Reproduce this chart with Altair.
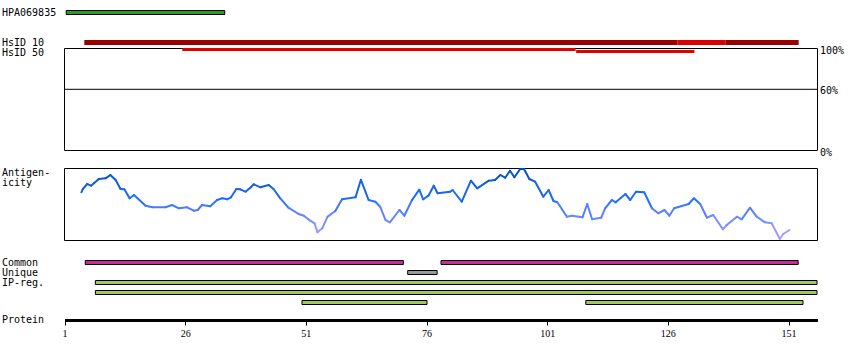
import altair as alt
import pandas as pd

# ---------------- data ----------------
protein_length = 157
tick_residues = [1, 26, 51, 76, 101, 126, 151]

# Antigenicity profile (residue, score)
ag_residue = [4.5, 4.8, 5.7, 6.5, 7.1, 8.1, 9.5, 10.5, 11.6, 12.6, 13.4, 14.5, 15.4, 17.8, 19.2,
              21.9, 23.3, 24.7, 26.4, 27.8, 28.6, 29.5, 31.2, 32.6, 33.7, 34.7, 35.5, 36.6, 37.4,
              38.5, 39.5, 40.2, 41.6, 43.3, 44.3, 45.7, 47.4, 49.5, 50.6, 51.9, 52.8, 53.4, 54.4,
              55.5, 57.1, 58.5, 61.3, 62.4, 64.0, 65.4, 66.4, 67.5, 68.4, 70.4, 71.4, 73.0, 74.5,
              75.3, 76.4, 77.5, 78.3, 80.9, 81.4, 83.3, 85.2, 86.5, 88.9, 90.2, 91.3, 92.3, 93.3,
              94.2, 95.4, 96.2, 97.3, 98.5, 100.2, 101.3, 102.3, 103.1, 105.1, 106.1, 108.3, 109.3,
              110.3, 112.2, 113.0, 114.4, 115.2, 117.2, 118.2, 119.4, 121.1, 122.7, 124.0, 125.3,
              126.3, 127.3, 130.3, 131.4, 132.7, 134.1, 135.4, 137.4, 138.2, 140.3, 141.3, 143.0,
              144.4, 146.1, 147.5, 149.2, 149.9, 151.2]
ag_score = [47.7, 51.0, 56.0, 54.3, 56.7, 61.0, 61.7, 65.0, 60.0, 51.0, 50.7, 41.7, 45.0, 34.3, 32.7,
            32.7, 35.0, 31.7, 32.7, 29.3, 30.0, 35.0, 33.7, 40.0, 41.7, 40.7, 42.7, 51.0, 50.7,
            48.3, 52.3, 55.7, 52.7, 55.0, 51.0, 41.7, 32.3, 26.0, 24.3, 19.3, 16.7, 7.7, 11.7,
            23.3, 29.0, 40.7, 42.7, 60.3, 40.0, 38.3, 33.3, 20.0, 17.7, 30.0, 24.3, 40.0, 50.3,
            40.7, 44.3, 54.3, 46.7, 48.3, 50.0, 38.3, 59.3, 51.7, 59.3, 60.0, 65.0, 62.3, 69.3,
            62.7, 71.0, 71.0, 61.0, 58.3, 43.3, 50.0, 39.0, 37.7, 23.3, 24.3, 22.7, 36.0,
            20.7, 22.3, 31.7, 40.0, 37.7, 46.0, 40.0, 48.3, 47.7, 31.7, 26.7, 30.0,
            24.3, 31.7, 36.0, 41.7, 36.0, 22.3, 25.0, 10.7, 15.0, 23.3, 20.7, 32.3,
            23.3, 17.7, 16.7, 1.0, 6.0, 10.0]

# Antibody
hpa_name = ["HPA069835"]
hpa_start = [1.35]
hpa_end = [34.2]

# HsID 10 segments
hs10_start = [5.1, 128.0, 137.9]
hs10_end = [128.0, 137.9, 153.1]
hs10_level = ["lower", "higher", "lower"]

# HsID 50 segments (identity %)
hs50_start = [25.4, 107.0]
hs50_end = [106.9, 131.5]
hs50_identity = [100, 98]
identity_ticks = [100, 60, 0]

# Features
common_start = [5.3, 79.0]
common_end = [71.2, 153.0]
unique_start = [72.1]
unique_end = [78.2]
ip_start = [7.4, 7.4, 50.2, 109.0]
ip_end = [156.9, 156.9, 76.1, 154.0]
ip_row = [0, 1, 2, 2]

left_labels = ["HPA069835", "HsID 10", "HsID 50", "Antigen-", "icity", "Common", "Unique", "IP-reg.", "Protein"]

# ---------------- layout / style ----------------
label_y = [12.5, 42.5, 52.5, 173, 183, 263, 273, 282.5, 320]
MONO = "DejaVu Sans Mono"
xscale = alt.Scale(domain=[1, protein_length], range=[64.5, 817.5], nice=False, zero=False)
xaxis = alt.Axis(values=tick_residues, title=None, grid=False, domainColor="black", domainWidth=3,
                 tickColor="black", tickSize=5, tickWidth=1, labelColor="black",
                 labelFont="Liberation Sans Narrow", labelFontSize=10, labelPadding=3,
                 labelFlush=False, labelOverlap=False)
hs_scale = alt.Scale(domain=[0, 100], range=[150.5, 48.5], nice=False, zero=False)
ag_scale = alt.Scale(domain=[0, 72], range=[240, 168], nice=False, zero=False)


def X(field):
    return alt.X(field, type="quantitative", scale=xscale, axis=xaxis)


def XD(value):
    return alt.X(datum=value, type="quantitative", scale=xscale, axis=xaxis)


layers = []

# HsID box
layers.append(
    alt.Chart(pd.DataFrame({"a": [0]})).mark_rect(fillOpacity=0, stroke="black", strokeWidth=1).encode(
        x=XD(1),
        x2=alt.X2(datum=protein_length),
        y=alt.Y(datum=0, type="quantitative", scale=hs_scale, axis=None),
        y2=alt.Y2(datum=100),
    )
)
# 60% line
layers.append(
    alt.Chart(pd.DataFrame({"a": [0]})).mark_rule(color="black", strokeWidth=1).encode(
        x=XD(1),
        x2=alt.X2(datum=protein_length),
        y=alt.Y(datum=60, type="quantitative", scale=hs_scale, axis=None),
    )
)
# percent labels
pct_df = pd.DataFrame({"p": identity_ticks})
layers.append(
    alt.Chart(pct_df).transform_calculate(lab="datum.p + '%'").mark_text(
        align="left", baseline="middle", font=MONO, fontSize=10, color="black", dy=2
    ).encode(
        x=alt.value(820),
        y=alt.Y("p:Q", scale=hs_scale, axis=None),
        text="lab:N",
    )
)
# Antigenicity box
layers.append(
    alt.Chart(pd.DataFrame({"a": [0]})).mark_rect(fillOpacity=0, stroke="black", strokeWidth=1).encode(
        x=XD(1),
        x2=alt.X2(datum=protein_length),
        y=alt.value(168.5),
        y2=alt.value(240.5),
    )
)
# Antigenicity line as coloured segments
ag = pd.DataFrame({"r": ag_residue, "v": ag_score})
ag["r2"] = ag["r"].shift(-1)
ag["v2"] = ag["v"].shift(-1)
ag = ag.dropna()
ag["m"] = (ag["v"] + ag["v2"]) / 2
layers.append(
    alt.Chart(ag).mark_rule(strokeWidth=2, strokeCap="round").encode(
        x=X("r"),
        x2="r2",
        y=alt.Y("v:Q", scale=ag_scale, axis=None),
        y2="v2",
        color=alt.Color("m:Q", scale=alt.Scale(domain=[0, 20, 40, 70],
                                               range=["#b9a4ff", "#6f8cff", "#1f70ff", "#0450c0"]),
                        legend=None),
    )
)
# HPA bar
layers.append(
    alt.Chart(pd.DataFrame({"s": hpa_start, "e": hpa_end})).mark_rect(
        fill="#22a022", stroke="black", strokeWidth=1
    ).encode(x=X("s"), x2="e", y=alt.value(10.5), y2=alt.value(14.5))
)
# HsID 10
layers.append(
    alt.Chart(pd.DataFrame({"s": hs10_start, "e": hs10_end, "lvl": hs10_level})).mark_rect().encode(
        x=X("s"), x2="e", y=alt.value(40), y2=alt.value(45),
        color=alt.Color("lvl:N", scale=alt.Scale(domain=["lower", "higher"], range=["#990000", "#dd0000"]),
                        legend=None),
    )
)
# HsID 50
layers.append(
    alt.Chart(pd.DataFrame({"s": hs50_start, "e": hs50_end, "p": hs50_identity})).mark_rule(
        color="#e00000", strokeWidth=3, yOffset=1
    ).encode(x=X("s"), x2="e", y=alt.Y("p:Q", scale=hs_scale, axis=None))
)
# Common
layers.append(
    alt.Chart(pd.DataFrame({"s": common_start, "e": common_end})).mark_rect(
        fill="#c92aa0", stroke="black", strokeWidth=1
    ).encode(x=X("s"), x2="e", y=alt.value(260.5), y2=alt.value(264.5))
)
# Unique
layers.append(
    alt.Chart(pd.DataFrame({"s": unique_start, "e": unique_end})).mark_rect(
        fill="#999999", stroke="black", strokeWidth=1
    ).encode(x=X("s"), x2="e", y=alt.value(270.5), y2=alt.value(274.5))
)
# IP-reg rows
ip_df = pd.DataFrame({"s": ip_start, "e": ip_end, "row": ip_row})
for i in range(3):
    layers.append(
        alt.Chart(ip_df).transform_filter(alt.datum.row == i).mark_rect(
            fill="#a0c85a", stroke="black", strokeWidth=1
        ).encode(x=X("s"), x2="e", y=alt.value(280.5 + 10 * i), y2=alt.value(284.5 + 10 * i))
    )
# Left labels
for lab, yy in zip(left_labels, label_y):
    layers.append(
        alt.Chart(pd.DataFrame({"t": [lab]})).mark_text(
            align="left", baseline="middle", font=MONO, fontSize=10, color="black"
        ).encode(x=alt.value(2), y=alt.value(yy), text="t:N")
    )

chart = alt.layer(*layers).resolve_scale(y="independent", color="independent").properties(
    width=850, height=320,
    padding={"left": 0, "top": 0, "right": 0, "bottom": 40},
    autosize=alt.AutoSizeParams(type="none"),
    background="white",
).configure_view(stroke=None)

chart.save("out.html", embed_options={"renderer": "svg", "actions": False})
